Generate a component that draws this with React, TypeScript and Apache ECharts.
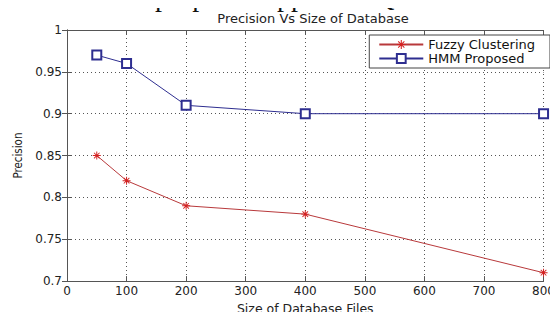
import React, { useEffect, useRef } from "react";
import * as echarts from "echarts";

const chartTitle = "Precision Vs Size of Database";
const xAxisName = "Size of Database Files";
const yAxisName = "Precision";
const seriesNames = ["Fuzzy Clustering", "HMM Proposed"];
const databaseSizes = [50, 100, 200, 400, 800];
const fuzzyClustering = [0.85, 0.82, 0.79, 0.78, 0.71];
const hmmProposed = [0.97, 0.96, 0.91, 0.9, 0.9];
const croppedHeaderText = "proposed approach Q";

const asterisk =
  "path://M-0.6,-5L0.6,-5L0.6,5L-0.6,5Z M-5,-0.6L5,-0.6L5,0.6L-5,0.6Z M-3.9,-3.1L-3.1,-3.9L3.9,3.1L3.1,3.9Z M3.1,-3.9L3.9,-3.1L-3.1,3.9L-3.9,3.1Z";

const font = "DejaVu Sans";

export default function App() {
  const ref = useRef<HTMLDivElement>(null);
  useEffect(() => {
    if (!ref.current) return;
    const chart = echarts.init(ref.current, null, { renderer: "svg" });
    const pair = (ys: number[]) => databaseSizes.map((x, i) => [x, ys[i]]);
    const axisCommon = {
      axisLine: { show: true, lineStyle: { color: "#555", width: 1 } },
      axisTick: { show: true, inside: true, length: 5, lineStyle: { color: "#555" } },
    };
    const gridLine = { show: true, lineStyle: { color: "#555", type: [1, 3], width: 1 } };
    chart.setOption({
      animation: false,
      backgroundColor: "#ffffff",
      title: {
        text: chartTitle,
        left: 308,
        textAlign: "center",
        top: 7,
        textStyle: { fontFamily: font, fontSize: 13, fontWeight: "normal", color: "#222" },
      },
      graphic: [
        {
          type: "text",
          x: 155,
          y: 10,
          silent: true,
          style: {
            text: croppedHeaderText,
            font: "28px 'Liberation Serif'",
            fill: "#111",
            verticalAlign: "bottom",
          },
        },
      ],
      legend: {
        orient: "vertical",
        right: 8,
        top: 35,
        padding: [3, 15, 3, 9],
        itemWidth: 44,
        itemHeight: 11,
        itemGap: 1,
        backgroundColor: "#ffffff",
        borderColor: "#444",
        borderWidth: 1,
        borderRadius: 0,
        textStyle: { fontFamily: font, fontSize: 13, color: "#111", lineHeight: 12 },
        data: seriesNames,
      },
      grid: { left: 67, right: 8, top: 30, bottom: 24, containLabel: false },
      xAxis: [
        {
          type: "value",
          min: 0,
          max: 800,
          interval: 100,
          name: xAxisName,
          nameLocation: "middle",
          nameGap: 15,
          nameTextStyle: { fontFamily: font, fontSize: 12.5, color: "#222" },
          ...axisCommon,
          axisLabel: { fontFamily: font, fontSize: 12, color: "#222", margin: 4 },
          splitLine: gridLine,
        },
        {
          type: "value",
          position: "top",
          min: 0,
          max: 800,
          interval: 100,
          ...axisCommon,
          axisLabel: { show: false },
          splitLine: { show: false },
        },
      ],
      yAxis: [
        {
          type: "value",
          min: 0.7,
          max: 1,
          interval: 0.05,
          name: yAxisName,
          nameLocation: "middle",
          nameGap: 43,
          nameTextStyle: { fontFamily: "'Liberation Sans Narrow', 'DejaVu Sans Condensed'", fontSize: 11.5, color: "#222" },
          ...axisCommon,
          axisLabel: {
            fontFamily: font,
            fontSize: 12,
            color: "#222",
            margin: 5,
            formatter: (v: number) => String(+v.toFixed(2)),
          },
          splitLine: gridLine,
        },
        {
          type: "value",
          position: "right",
          min: 0.7,
          max: 1,
          interval: 0.05,
          ...axisCommon,
          axisLabel: { show: false },
          splitLine: { show: false },
        },
      ],
      series: [
        {
          name: seriesNames[0],
          type: "line",
          data: pair(fuzzyClustering),
          symbol: asterisk,
          symbolSize: 8,
          lineStyle: { color: "#b8393b", width: 1 },
          itemStyle: { color: "#d42020" },
        },
        {
          name: seriesNames[1],
          type: "line",
          data: pair(hmmProposed),
          symbol: "emptyRect",
          symbolSize: 9,
          lineStyle: { color: "#2e2e90", width: 1 },
          itemStyle: { color: "#2e2e90", borderWidth: 1.2 },
        },
      ],
    });
    return () => chart.dispose();
  }, []);
  return <div ref={ref} style={{ width: 558, height: 320, margin: -8 }} />;
}
